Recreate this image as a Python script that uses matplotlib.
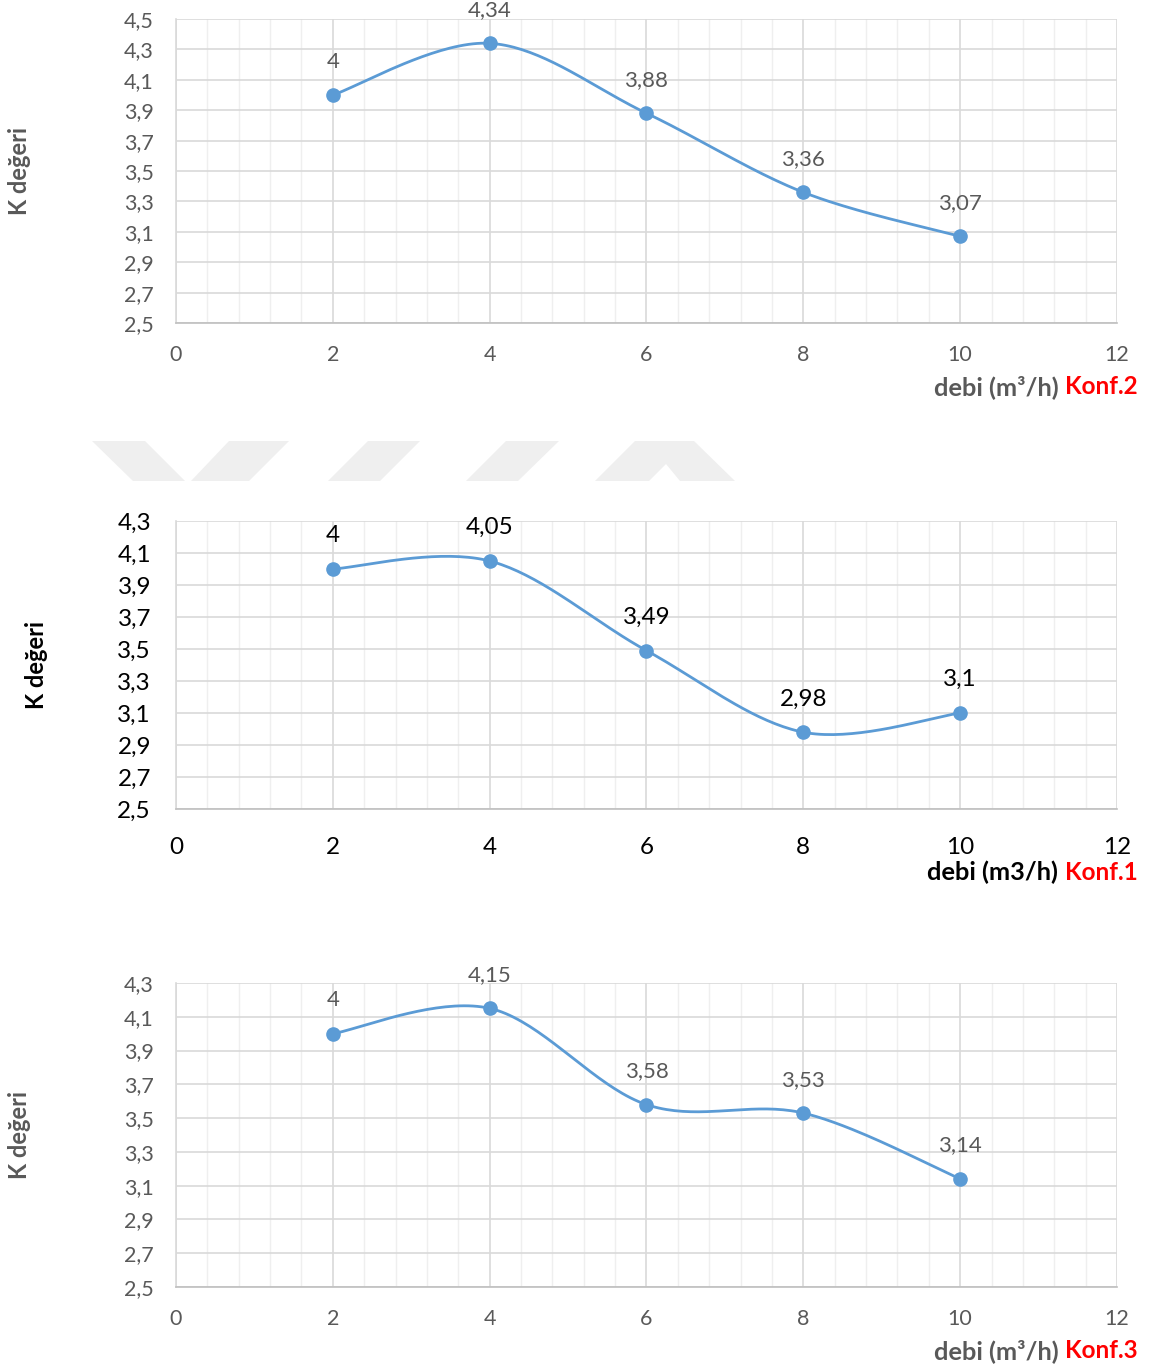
import numpy as np
import matplotlib
matplotlib.use("Agg")
import matplotlib.pyplot as plt
from matplotlib.ticker import MultipleLocator, FuncFormatter
from matplotlib.patches import Polygon

plt.rcParams['font.family'] = ['Lato', 'DejaVu Sans']

# data
debi = [2, 4, 6, 8, 10]
k_konf2 = [4, 4.34, 3.88, 3.36, 3.07]
k_konf1 = [4, 4.05, 3.49, 2.98, 3.1]
k_konf3 = [4, 4.15, 3.58, 3.53, 3.14]
x_ticks = [0, 2, 4, 6, 8, 10, 12]

W, H = 1157, 1370
fig = plt.figure(figsize=(W / 100, H / 100), dpi=100)

BLUE = '#5b9bd5'
GRAY = '#595959'


def smooth(xs, ys, n=40):
    # Excel-like smoothed line (Catmull-Rom bezier)
    P = np.column_stack([xs, ys]).astype(float)
    out = []
    for i in range(len(P) - 1):
        p0 = P[i - 1] if i > 0 else P[i]
        p1, p2 = P[i], P[i + 1]
        p3 = P[i + 2] if i + 2 < len(P) else P[i + 1]
        c1 = p1 + (p2 - p0) / 6
        c2 = p2 - (p3 - p1) / 6
        t = np.linspace(0, 1, n)[:, None]
        seg = ((1 - t) ** 3) * p1 + 3 * ((1 - t) ** 2) * t * c1 + 3 * (1 - t) * t ** 2 * c2 + t ** 3 * p2
        out.append(seg if i == 0 else seg[1:])
    out = np.vstack(out)
    return out[:, 0], out[:, 1]


def comma(v):
    return f"{v:g}".replace('.', ',')


def panel(top, bottom, ys, ymax, txtcol, fs, lblfs, ypad, xpad, ylab_x, xl_y, unit, konf):
    ax = fig.add_axes([176 / W, 1 - bottom / H, (1117 - 176) / W, (bottom - top) / H])
    ax.set_xlim(0, 12)
    ax.set_ylim(2.5, ymax)
    ax.xaxis.set_minor_locator(MultipleLocator(0.4))
    ax.set_yticks(np.round(np.arange(2.5, ymax + 0.01, 0.2), 1))
    ax.yaxis.set_major_formatter(FuncFormatter(lambda v, p: f"{v:.1f}".replace('.', ',')))
    ax.set_xticks(x_ticks)
    ax.grid(which='major', color='#d9d9d9', lw=1.2)
    ax.grid(which='minor', axis='x', color='#efefef', lw=1.0)
    ax.set_axisbelow(True)
    for s in ['top', 'right']:
        ax.spines[s].set_visible(False)
    ax.spines['left'].set_color('#d9d9d9')
    ax.spines['bottom'].set_color('#bfbfbf')
    ax.spines['left'].set_linewidth(1.2)
    ax.spines['bottom'].set_linewidth(1.2)
    ax.tick_params(which='both', length=0, labelcolor=txtcol, labelsize=fs)
    ax.tick_params(axis='y', pad=ypad)
    ax.tick_params(axis='x', pad=xpad)

    sx, sy = smooth(debi, ys)
    ax.plot(sx, sy, color=BLUE, lw=2.0, solid_capstyle='round')
    ax.plot(debi, ys, 'o', color=BLUE, ms=9.5, mec=BLUE)
    for x, y in zip(debi, ys):
        ax.annotate(comma(y), (x, y), xytext=(0, 24), textcoords='offset points',
                    ha='center', va='center', fontsize=lblfs, color=txtcol)

    fig.text(ylab_x / W, 1 - (top + bottom) / 2 / H, "K değeri", rotation=90,
             ha='center', va='center', fontsize=17, fontweight='bold', color=txtcol)

    kt = fig.text(1138 / W, 1 - xl_y / H, konf, ha='right', va='center',
                  fontsize=17.5, fontweight='bold', color='#ff0000')
    fig.canvas.draw()
    bb = kt.get_window_extent()
    fig.text((bb.x0 - 7) / W, 1 - xl_y / H, unit, ha='right', va='center',
             fontsize=18.3, fontweight='bold', color=txtcol)
    return ax


panel(19, 323, k_konf2, 4.5, GRAY, 15.5, 16, 16, 16, 20, 387, "debi (m³/h)", "Konf.2")
panel(521, 809, k_konf1, 4.3, 'black', 17.5, 17.5, 18, 20, 37, 872, "debi (m3/h)", "Konf.1")
panel(983, 1287, k_konf3, 4.3, GRAY, 15.5, 16, 16, 16, 20, 1351, "debi (m³/h)", "Konf.3")

# faint watermark band between first and second chart
wm = [
    [(92, 441), (145, 441), (185, 481), (133, 481)],
    [(229, 441), (289, 441), (249, 481), (191, 481)],
    [(368, 441), (420, 441), (380, 481), (328, 481)],
    [(506, 441), (559, 441), (518, 481), (466, 481)],
    [(635, 441), (694, 441), (735, 481), (680, 481), (666, 464), (649, 481), (595, 481)],
]
for poly in wm:
    pts = [(px / W, 1 - py / H) for px, py in poly]
    fig.patches.append(Polygon(pts, closed=True, transform=fig.transFigure,
                               facecolor='#efefef', edgecolor='none', zorder=0))

fig.savefig("out.png", dpi=100)
